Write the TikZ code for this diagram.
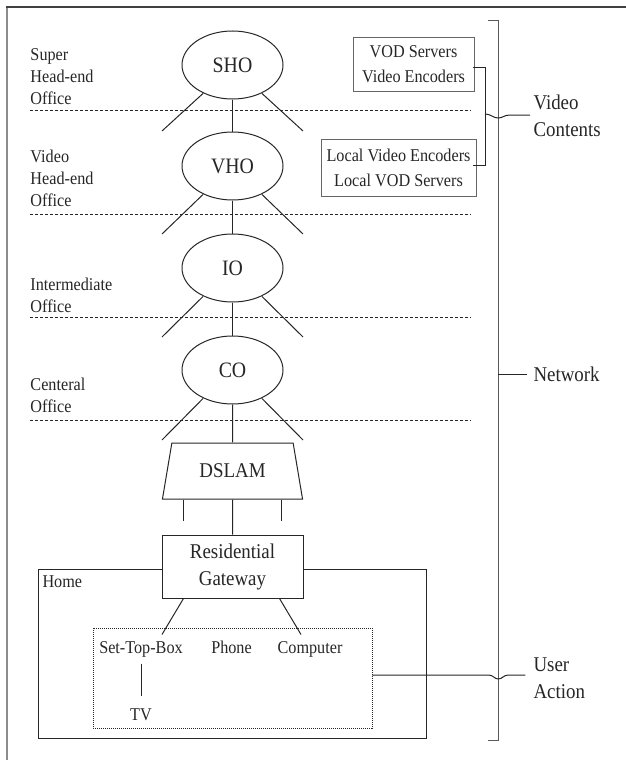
\documentclass[tikz,border=0pt]{standalone}
\usepackage{fontspec}
\setmainfont{Liberation Serif}[FakeStretch=0.9]
\usetikzlibrary{shapes.geometric}
\begin{document}
\begin{tikzpicture}[x=1pt,y=-1pt, line width=1pt, color=black!85,
  every node/.style={inner sep=0pt},
  lab/.style={font=\fontsize{18}{22}\selectfont, align=left, anchor=north west},
  big/.style={font=\fontsize{21}{27}\selectfont, align=left, anchor=north west},
  office/.style={ellipse, draw, minimum width=101pt, minimum height=68pt, font=\fontsize{22}{26}\selectfont},
  srv/.style={draw=black!60, line width=0.8pt, font=\fontsize{18}{25}\selectfont, align=center},
  lvl/.style={dash pattern=on 3pt off 2pt, line width=0.8pt},
  dev/.style={font=\fontsize{18}{22}\selectfont, text height=12pt, text depth=4pt},
]
\useasboundingbox (0,0) rectangle (626,760);
\draw[black!45, line width=1.2pt] (7,7) -- (7,760);
\draw[black!75, line width=1.2pt] (6,7) -- (626,7);

% level separators
\foreach \y in {110,214,317,420} \draw[lvl] (30,\y) -- (471,\y);

% left labels
\node[lab] (lsho) at (30,48) {Super\\Head-end\\Office};
\node[lab] (lvho) at (30,150) {Video\\Head-end\\Office};
\node[lab] (lio) at (30,278) {Intermediate\\Office};
\node[lab] (lco) at (30,378) {Centeral\\Office};

% offices
\node[office] (SHO) at (232.5,65) {SHO};
\node[office] (VHO) at (232.5,166) {VHO};
\node[office] (IO) at (232.5,268) {IO};
\node[office] (CO) at (232.5,370) {CO};
\node[trapezium, draw, trapezium left angle=70, trapezium right angle=70,
      trapezium stretches=true, minimum width=141pt, minimum height=56pt,
      font=\fontsize{21}{25}\selectfont] (DSLAM) at (232.5,471) {DSLAM};

\foreach \n/\y in {SHO/131, VHO/234, IO/337, CO/440} {
  \coordinate (\n-l) at (162,\y);
  \coordinate (\n-r) at (303,\y);
  \draw (\n.224) -- (\n-l);
  \draw (\n.316) -- (\n-r);
}
\draw (SHO.south) -- (VHO.north);
\draw (VHO.south) -- (IO.north);
\draw (IO.south) -- (CO.north);
\draw (CO.south) -- (DSLAM.north);

% home
\node[draw, minimum width=388pt, minimum height=169pt] (home) at (232,653.5) {};
\node[lab] (homelbl) at (42,575) {Home};
\node[draw, fill=white, minimum width=141pt, minimum height=63pt, align=center,
      font=\fontsize{21}{27}\selectfont] (RG) at (232.5,566.5) {Residential\\Gateway};
\draw ([xshift=22pt]DSLAM.bottom left corner) -- ++(0,21);
\draw ([xshift=-22pt]DSLAM.bottom right corner) -- ++(0,21);
\draw (DSLAM.south) -- (RG.north);

\node[draw, dash pattern=on 1pt off 1pt, line width=0.7pt, minimum width=279pt, minimum height=100pt] (devs) at (232.5,678) {};
\node[dev] (STB) at (141,649) {Set-Top-Box};
\node[dev] (Phone) at (231.5,649) {Phone};
\node[dev] (Comp) at (310,649) {Computer};
\node[dev] (TV) at (141,716) {TV};
\draw ([xshift=22pt]RG.south west) -- ([xshift=21pt,yshift=6pt]STB.north);
\draw ([xshift=-24pt]RG.south east) -- ([xshift=-9pt,yshift=6pt]Comp.north);
\draw[shorten <=6pt, shorten >=12pt] (STB.south) -- (TV.north);

% servers
\node[srv, minimum width=121pt, minimum height=54pt] (vod) at (413.5,64) {VOD Servers\\Video Encoders};
\node[srv, minimum width=155pt, minimum height=57pt] (lvod) at (398.5,167.5) {Local Video Encoders\\Local VOD Servers};

% brackets
\draw[black!65] (488,21) -- (498,21) -- (498,740) -- (488,740);
\draw (473,68) -- (485,68) -- (485,165) -- (473,165);
\draw (485,114) .. controls (491,114) and (493,118) .. (498,118) .. controls (503,118) and (504,115) .. (510,115) -- (530,115);
\draw (498,374) -- (527,374);

\node[big] (vc) at (533,94.5) {Video\\Contents};
\node[big, anchor=west] (net) at (533,374) {Network};
\node[big] (ua) at (533,657.5) {User\\Action};
\draw ([yshift=3pt]devs.east) -- ++(116,0) .. controls +(5,0) and +(-4,0) .. ++(10,4) .. controls +(4,0) and +(-5,0) .. ++(10,-4) -- ++(17,0);
\end{tikzpicture}
\end{document}
